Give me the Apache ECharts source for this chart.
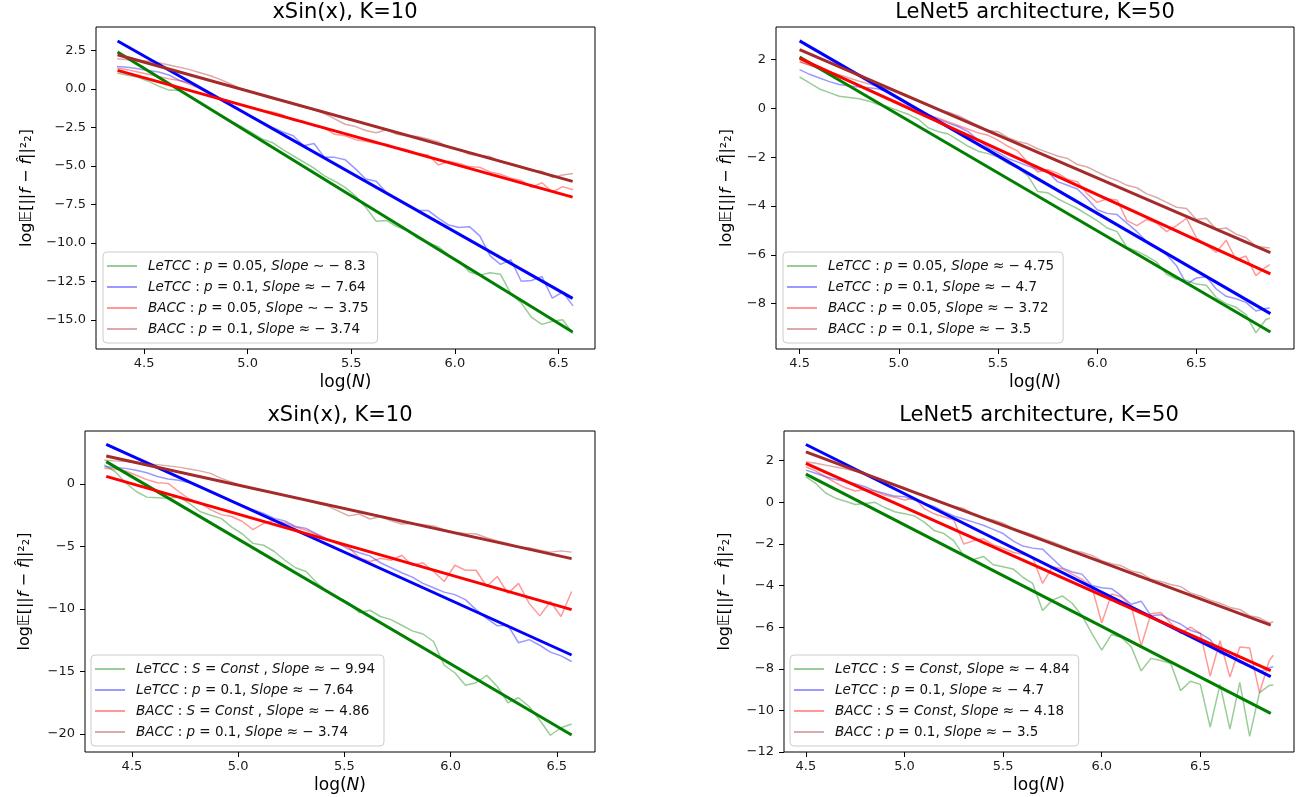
<!DOCTYPE html>
<html>
<head>
<meta charset="utf-8">
<script src="https://cdn.jsdelivr.net/npm/echarts/dist/echarts.min.js"></script>
<style>
html,body{margin:0;padding:0;background:#fff;}
#c{width:1299px;height:797px;}
</style>
</head>
<body>
<div id="c"></div>
<script>
// ---------- data ----------
const xLeft = [4.37,4.42,4.47,4.52,4.57,4.62,4.67,4.72,4.77,4.82,4.87,4.92,4.97,5.02,5.07,5.12,5.17,5.22,5.27,5.32,5.37,5.42,5.47,5.52,5.57,5.62,5.67,5.72,5.77,5.82,5.87,5.92,5.97,6.02,6.07,6.12,6.17,6.22,6.27,6.32,6.37,6.42,6.47,6.52,6.57];
const xRight = [4.50,4.55,4.60,4.65,4.70,4.75,4.80,4.85,4.90,4.95,5.00,5.05,5.10,5.15,5.20,5.25,5.30,5.35,5.40,5.45,5.50,5.55,5.60,5.65,5.70,5.75,5.80,5.85,5.90,5.95,6.00,6.05,6.10,6.15,6.20,6.25,6.30,6.35,6.40,6.45,6.50,6.55,6.60,6.65,6.70,6.75,6.80,6.85,6.87];

const xTicks = [4.5,5.0,5.5,6.0,6.5];
const yTicksTL = [-15,-12.5,-10,-7.5,-5,-2.5,0,2.5];
const yTicksTR = [-8,-6,-4,-2,0,2];
const yTicksBL = [-20,-15,-10,-5,0];
const yTicksBR = [-12,-10,-8,-6,-4,-2,0,2];

// top-left: xSin(x), K=10
const tlG  = [1.03,0.88,0.75,0.50,0.18,-0.08,-0.10,-0.45,-0.90,-1.30,-1.70,-2.10,-2.45,-2.85,-3.25,-3.50,-3.95,-4.35,-4.75,-5.15,-5.65,-6.00,-6.40,-6.95,-7.70,-8.60,-8.55,-8.95,-9.20,-9.70,-10.00,-10.25,-10.80,-11.20,-11.90,-12.10,-11.95,-12.05,-13.30,-13.90,-14.85,-15.30,-15.10,-15.00,-15.90];
const tlB  = [1.46,1.40,1.30,1.20,1.10,0.90,0.55,0.40,0.05,-0.30,-0.70,-1.05,-1.45,-1.80,-2.15,-2.50,-2.80,-3.05,-3.70,-3.55,-4.45,-4.45,-4.60,-5.20,-5.85,-6.00,-6.75,-7.15,-7.50,-7.90,-7.90,-8.40,-8.85,-9.00,-8.95,-9.55,-10.85,-11.40,-11.10,-12.50,-12.45,-12.20,-13.60,-13.20,-14.10];
const tlR  = [1.35,1.25,1.10,0.95,0.80,0.65,0.55,0.30,0.00,-0.40,-0.65,-0.85,-1.05,-1.20,-1.40,-1.50,-1.70,-2.05,-2.10,-2.40,-2.55,-2.95,-3.05,-3.30,-3.40,-3.55,-3.60,-3.80,-3.95,-4.20,-4.30,-4.95,-4.70,-4.85,-5.05,-5.10,-5.40,-5.55,-5.80,-5.95,-6.40,-6.10,-6.70,-6.35,-6.55];
const tlBr = [1.95,1.90,1.85,1.80,1.70,1.55,1.40,1.25,1.05,0.85,0.60,0.30,0.00,-0.20,-0.45,-0.65,-0.80,-1.00,-1.20,-1.35,-1.60,-1.95,-2.30,-2.45,-2.70,-2.85,-2.65,-2.95,-3.05,-3.10,-3.25,-3.45,-3.80,-3.95,-4.25,-4.35,-4.40,-4.75,-4.85,-5.05,-5.30,-5.35,-5.75,-5.60,-5.50];
const tlFitX = [4.372, 6.568];
const tlFitStart = [2.39, 3.11, 1.20, 2.22];
const tlFitEnd = [-15.80, -13.61, -7.03, -6.01];
const tlLabels = ['LeTCC : p = 0.05, Slope ∼ − 8.3','LeTCC : p = 0.1, Slope ≈ − 7.64','BACC : p = 0.05, Slope ∼ − 3.75','BACC : p = 0.1, Slope ≈ − 3.74'];

// top-right: LeNet5, K=50
const trG  = [1.29,1.05,0.80,0.65,0.50,0.45,0.40,0.30,0.15,0.05,-0.10,-0.25,-0.45,-0.80,-0.95,-1.05,-1.30,-1.55,-1.75,-1.85,-2.00,-2.25,-2.45,-2.75,-3.40,-3.45,-3.70,-3.90,-4.10,-4.35,-4.60,-4.90,-5.05,-5.70,-5.85,-6.05,-6.30,-6.80,-7.00,-7.05,-7.20,-7.25,-7.75,-8.00,-8.15,-8.45,-9.20,-8.65,-8.60];
const trB  = [1.59,1.40,1.25,1.10,0.98,0.92,0.88,0.85,0.80,0.65,0.42,0.20,-0.05,-0.25,-0.45,-0.60,-0.75,-0.95,-1.30,-1.60,-1.80,-2.05,-2.20,-2.35,-2.50,-2.60,-3.00,-3.15,-3.30,-3.70,-4.15,-4.30,-4.35,-4.70,-5.05,-5.45,-5.70,-6.00,-6.45,-7.20,-6.95,-6.90,-7.40,-7.70,-7.80,-7.95,-8.30,-8.20,-8.18];
const trR  = [1.93,1.78,1.62,1.45,1.28,1.12,0.95,0.78,0.60,0.42,0.25,0.08,-0.10,-0.28,-0.40,-0.55,-0.70,-0.85,-1.00,-1.10,-1.30,-1.55,-1.75,-2.20,-2.60,-2.50,-2.65,-2.90,-3.00,-3.50,-3.85,-3.70,-3.75,-4.60,-4.80,-4.55,-4.70,-5.05,-4.80,-4.50,-5.30,-5.60,-5.90,-5.40,-6.20,-6.05,-6.85,-6.50,-6.40];
const trBr = [1.90,1.78,1.65,1.50,1.38,1.25,1.12,1.00,0.90,0.78,0.62,0.45,0.28,0.12,-0.05,-0.15,-0.30,-0.50,-0.70,-0.90,-0.95,-1.20,-1.35,-1.45,-1.65,-1.80,-1.95,-2.05,-2.30,-2.40,-2.60,-2.80,-2.95,-3.15,-3.25,-3.50,-3.65,-3.85,-4.05,-4.10,-4.55,-4.50,-4.95,-4.90,-5.15,-5.30,-5.65,-5.70,-5.72];
const trFitX = [4.50, 6.873];
const trFitStart = [2.11, 2.77, 2.05, 2.41];
const trFitEnd = [-9.16, -8.41, -6.78, -5.91];
const trLabels = ['LeTCC : p = 0.05, Slope ≈ − 4.75','LeTCC : p = 0.1, Slope ≈ − 4.7','BACC : p = 0.05, Slope ≈ − 3.72','BACC : p = 0.1, Slope ≈ − 3.5'];

// bottom-left: xSin(x), K=10
const blG  = [1.52,1.00,0.10,-0.60,-1.05,-1.10,-1.15,-1.05,-1.55,-2.20,-2.50,-2.75,-3.45,-4.00,-4.75,-4.90,-5.40,-6.10,-6.70,-7.00,-7.90,-8.60,-9.10,-9.50,-10.30,-10.10,-10.60,-10.85,-11.30,-11.75,-12.00,-12.60,-14.50,-15.10,-16.10,-15.90,-15.30,-16.20,-17.50,-17.10,-17.80,-18.90,-20.10,-19.50,-19.20];
const blB  = [1.39,1.32,1.25,1.10,0.90,0.60,0.40,0.30,0.10,-0.25,-0.55,-0.95,-1.35,-1.70,-2.05,-2.35,-2.75,-2.95,-3.40,-3.55,-4.00,-4.40,-4.75,-5.20,-5.50,-5.75,-6.30,-6.70,-7.10,-7.45,-7.95,-8.30,-8.65,-8.85,-9.25,-10.05,-10.75,-11.35,-11.30,-12.70,-12.45,-12.90,-13.45,-13.75,-14.20];
const blR  = [1.25,1.20,1.05,0.70,0.35,0.10,0.05,-0.60,-1.20,-1.50,-2.05,-2.45,-2.60,-3.00,-3.65,-3.15,-2.90,-3.10,-3.45,-3.70,-4.05,-4.45,-4.80,-5.05,-5.90,-6.20,-5.95,-6.10,-5.70,-6.50,-6.30,-7.00,-7.80,-6.50,-6.90,-6.90,-8.20,-7.40,-8.75,-7.95,-9.55,-10.55,-9.40,-10.60,-8.60];
const blBr = [1.90,1.85,1.80,1.70,1.62,1.55,1.45,1.35,1.20,1.05,0.85,0.45,0.15,-0.15,-0.40,-0.55,-0.75,-0.90,-1.10,-1.30,-1.55,-1.75,-2.15,-2.55,-2.40,-2.80,-2.60,-2.95,-3.20,-3.15,-3.25,-3.35,-3.65,-3.85,-3.95,-4.00,-4.30,-4.55,-4.75,-5.05,-5.10,-5.30,-5.45,-5.35,-5.45];
const blFitX = [4.379, 6.570];
const blFitStart = [1.79, 3.17, 0.61, 2.24];
const blFitEnd = [-20.08, -13.68, -10.05, -5.97];
const blLabels = ['LeTCC : S = Const , Slope ≈ − 9.94','LeTCC : p = 0.1, Slope ≈ − 7.64','BACC : S = Const , Slope ≈ − 4.86','BACC : p = 0.1, Slope ≈ − 3.74'];

// bottom-right: LeNet5, K=50
const brG  = [1.23,0.91,0.45,0.20,0.05,-0.10,-0.05,0.00,-0.25,-0.45,-0.55,-0.65,-0.95,-1.35,-1.50,-1.85,-2.55,-2.75,-2.60,-3.00,-3.10,-3.20,-3.60,-3.90,-5.20,-4.70,-4.50,-4.85,-5.45,-6.30,-7.10,-6.35,-6.50,-6.95,-8.10,-7.50,-7.60,-7.75,-9.05,-8.60,-8.75,-10.80,-8.75,-10.90,-8.65,-11.25,-9.15,-8.80,-8.78];
const brB  = [1.55,1.40,1.23,1.10,1.00,0.90,0.75,0.55,0.43,0.30,0.27,0.11,-0.05,-0.20,-0.45,-0.65,-0.80,-0.95,-1.10,-1.30,-1.50,-1.85,-2.10,-2.20,-2.25,-2.70,-3.15,-3.35,-3.45,-4.00,-4.10,-4.15,-4.50,-4.90,-4.75,-5.45,-5.40,-5.65,-5.85,-6.15,-6.30,-6.60,-7.25,-7.40,-7.70,-7.85,-8.15,-7.95,-7.90];
const brR  = [1.71,1.50,1.23,0.95,0.70,0.55,0.62,0.55,0.35,0.25,0.11,0.20,-0.30,-0.55,-0.70,-0.85,-2.00,-1.85,-1.75,-2.05,-2.20,-2.40,-2.50,-2.65,-3.90,-3.10,-3.20,-3.45,-3.70,-4.05,-5.80,-4.40,-4.55,-5.00,-6.90,-5.35,-5.30,-5.80,-6.30,-6.00,-6.30,-8.35,-6.65,-8.40,-6.95,-7.00,-9.15,-7.60,-7.35];
const brBr = [1.95,1.88,1.79,1.70,1.62,1.50,1.35,1.18,1.00,0.85,0.70,0.48,0.35,0.15,-0.05,-0.20,-0.30,-0.55,-0.75,-0.85,-1.00,-1.25,-1.40,-1.55,-1.75,-1.90,-2.10,-2.30,-2.40,-2.55,-2.80,-2.95,-3.05,-3.30,-3.40,-3.70,-3.80,-3.95,-4.05,-4.35,-4.50,-4.70,-4.85,-5.05,-5.15,-5.45,-5.55,-5.80,-5.74];
const brFitX = [4.50, 6.857];
const brFitStart = [1.36, 2.78, 1.87, 2.43];
const brFitEnd = [-10.14, -8.38, -8.09, -5.90];
const brLabels = ['LeTCC : S = Const, Slope ≈ − 4.84','LeTCC : p = 0.1, Slope ≈ − 4.7','BACC : S = Const, Slope ≈ − 4.18','BACC : p = 0.1, Slope ≈ − 3.5'];

const titles = ['xSin(x), K=10','LeNet5 architecture, K=50','xSin(x), K=10','LeNet5 architecture, K=50'];

// ---------- style / layout ----------
const FONT = 'DejaVu Sans';
const FIT_COLORS = ['#008000','#0000ff','#ff0000','#a52a2a'];
const RAW_COLORS = ['rgba(0,128,0,0.4)','rgba(0,0,255,0.4)','rgba(255,0,0,0.4)','rgba(165,42,42,0.4)'];

const panels = [
  {key:'tl', x:xLeft,  ys:[tlG,tlB,tlR,tlBr], fx:tlFitX, fs:tlFitStart, fe:tlFitEnd, labels:tlLabels, yTicks:yTicksTL, yDec:1,
   grid:{left:96, top:27, width:499, height:322}, xr:[4.268,6.676], yr:[-16.9,4.02], tx:345, ty:2, yGap:61, leg:{left:103, top:252}},
  {key:'tr', x:xRight, ys:[trG,trB,trR,trBr], fx:trFitX, fs:trFitStart, fe:trFitEnd, labels:trLabels, yTicks:yTicksTR, yDec:0,
   grid:{left:776, top:27, width:518, height:322}, xr:[4.381,6.992], yr:[-9.86,3.34], tx:1035, ty:2, yGap:41, leg:{left:783, top:252}},
  {key:'bl', x:xLeft,  ys:[blG,blB,blR,blBr], fx:blFitX, fs:blFitStart, fe:blFitEnd, labels:blLabels, yTicks:yTicksBL, yDec:0,
   grid:{left:85, top:431, width:510, height:321}, xr:[4.279,6.68], yr:[-21.44,4.24], tx:340, ty:405, yGap:52, leg:{left:91, top:655}},
  {key:'br', x:xRight, ys:[brG,brB,brR,brBr], fx:brFitX, fs:brFitStart, fe:brFitEnd, labels:brLabels, yTicks:yTicksBR, yDec:0,
   grid:{left:784, top:431, width:510, height:321}, xr:[4.389,6.975], yr:[-12.0,3.43], tx:1039, ty:405, yGap:51, leg:{left:790, top:655}}
];

function fmt(v, d) {
  const s = Math.abs(v).toFixed(d);
  return (v < -1e-9 ? '\u2212' : '') + s;
}
function mathRich(s) {
  return s.replace(/[A-Za-z]+/g, m => '{i|' + m + '}');
}

const labelMap = {};
const option = {
  animation: false,
  backgroundColor: '#ffffff',
  title: [], grid: [], xAxis: [], yAxis: [], legend: [], series: []
};

const tickLabelStyle = {fontFamily: FONT, fontSize: 13, color: '#1a1a1a'};
const yName = '{a|log}{a|\u{1D53C}}{a|[||}{i|f}{a| \u2212 }{i|f\u0302}{a|||\u00B2\u2082]}';
const nameRich = {
  a: {fontFamily: FONT, fontSize: 16, color: '#000'},
  i: {fontFamily: FONT, fontSize: 16, fontStyle: 'italic', color: '#000'}
};
const nameRichX = {
  a: {fontFamily: FONT, fontSize: 17, color: '#000'},
  i: {fontFamily: FONT, fontSize: 17, fontStyle: 'italic', color: '#000'}
};

panels.forEach((p, k) => {
  option.title.push({
    text: titles[k], left: p.tx, top: p.ty, textAlign: 'center', padding: 0,
    textStyle: {fontFamily: FONT, fontSize: 21, fontWeight: 'normal', color: '#000'}
  });
  option.grid.push(Object.assign({show: true, borderColor: '#000', borderWidth: 1, backgroundColor: 'transparent', containLabel: false}, p.grid));
  option.xAxis.push({
    type: 'value', gridIndex: k, min: p.xr[0], max: p.xr[1],
    axisLine: {show: false, onZero: false}, splitLine: {show: false},
    axisTick: {show: true, inside: false, length: 5, lineStyle: {color: '#000', width: 1}, customValues: xTicks},
    axisLabel: Object.assign({customValues: xTicks, formatter: v => fmt(v, 1), margin: 8}, tickLabelStyle),
    name: '{a|log(}{i|N}{a|)}', nameLocation: 'middle', nameGap: 25,
    nameTextStyle: {rich: nameRichX, fontFamily: FONT, fontSize: 17}
  });
  option.yAxis.push({
    type: 'value', gridIndex: k, min: p.yr[0], max: p.yr[1],
    axisLine: {show: false, onZero: false}, splitLine: {show: false},
    axisTick: {show: true, inside: false, length: 5, lineStyle: {color: '#000', width: 1}, customValues: p.yTicks},
    axisLabel: Object.assign({customValues: p.yTicks, formatter: v => fmt(v, p.yDec), margin: 10}, tickLabelStyle),
    name: yName, nameLocation: 'middle', nameGap: p.yGap, nameRotate: 90,
    nameTextStyle: {rich: nameRich, fontFamily: FONT, fontSize: 16}
  });
  const names = [];
  p.ys.forEach((ys, s) => {
    const nm = p.key + '-' + s;
    names.push(nm);
    labelMap[nm] = p.labels[s];
    option.series.push({
      type: 'line', name: nm, xAxisIndex: k, yAxisIndex: k,
      data: p.x.map((xv, i) => [xv, ys[i]]),
      symbol: 'none', showSymbol: false, silent: true, z: 2,
      lineStyle: {width: 1.5, color: RAW_COLORS[s]},
      itemStyle: {color: RAW_COLORS[s]}
    });
  });
  p.fs.forEach((y0, s) => {
    option.series.push({
      type: 'line', xAxisIndex: k, yAxisIndex: k,
      data: [[p.fx[0], y0], [p.fx[1], p.fe[s]]],
      symbol: 'none', showSymbol: false, silent: true, z: 3,
      lineStyle: {width: 3, color: FIT_COLORS[s]},
      itemStyle: {color: FIT_COLORS[s]}
    });
  });
  option.legend.push({
    data: names.map((nm, s) => ({name: nm, icon: 'rect', itemStyle: {color: RAW_COLORS[s]}})),
    left: p.leg.left, top: p.leg.top, orient: 'vertical',
    selectedMode: false, itemWidth: 30, itemHeight: 2, itemGap: 5,
    padding: [6, 9, 6, 4],
    backgroundColor: 'rgba(255,255,255,0.8)', borderColor: '#cccccc', borderWidth: 1, borderRadius: 4,
    formatter: name => mathRich(labelMap[name]),
    textStyle: {
      fontFamily: FONT, fontSize: 13.5, color: '#111', lineHeight: 16, padding: [0, 0, 0, 6],
      rich: {i: {fontFamily: FONT, fontSize: 13.5, fontStyle: 'italic', color: '#111', lineHeight: 16}}
    }
  });
});

const chart = echarts.init(document.getElementById('c'), null, {renderer: 'canvas'});
chart.setOption(option);
</script>
</body>
</html>
